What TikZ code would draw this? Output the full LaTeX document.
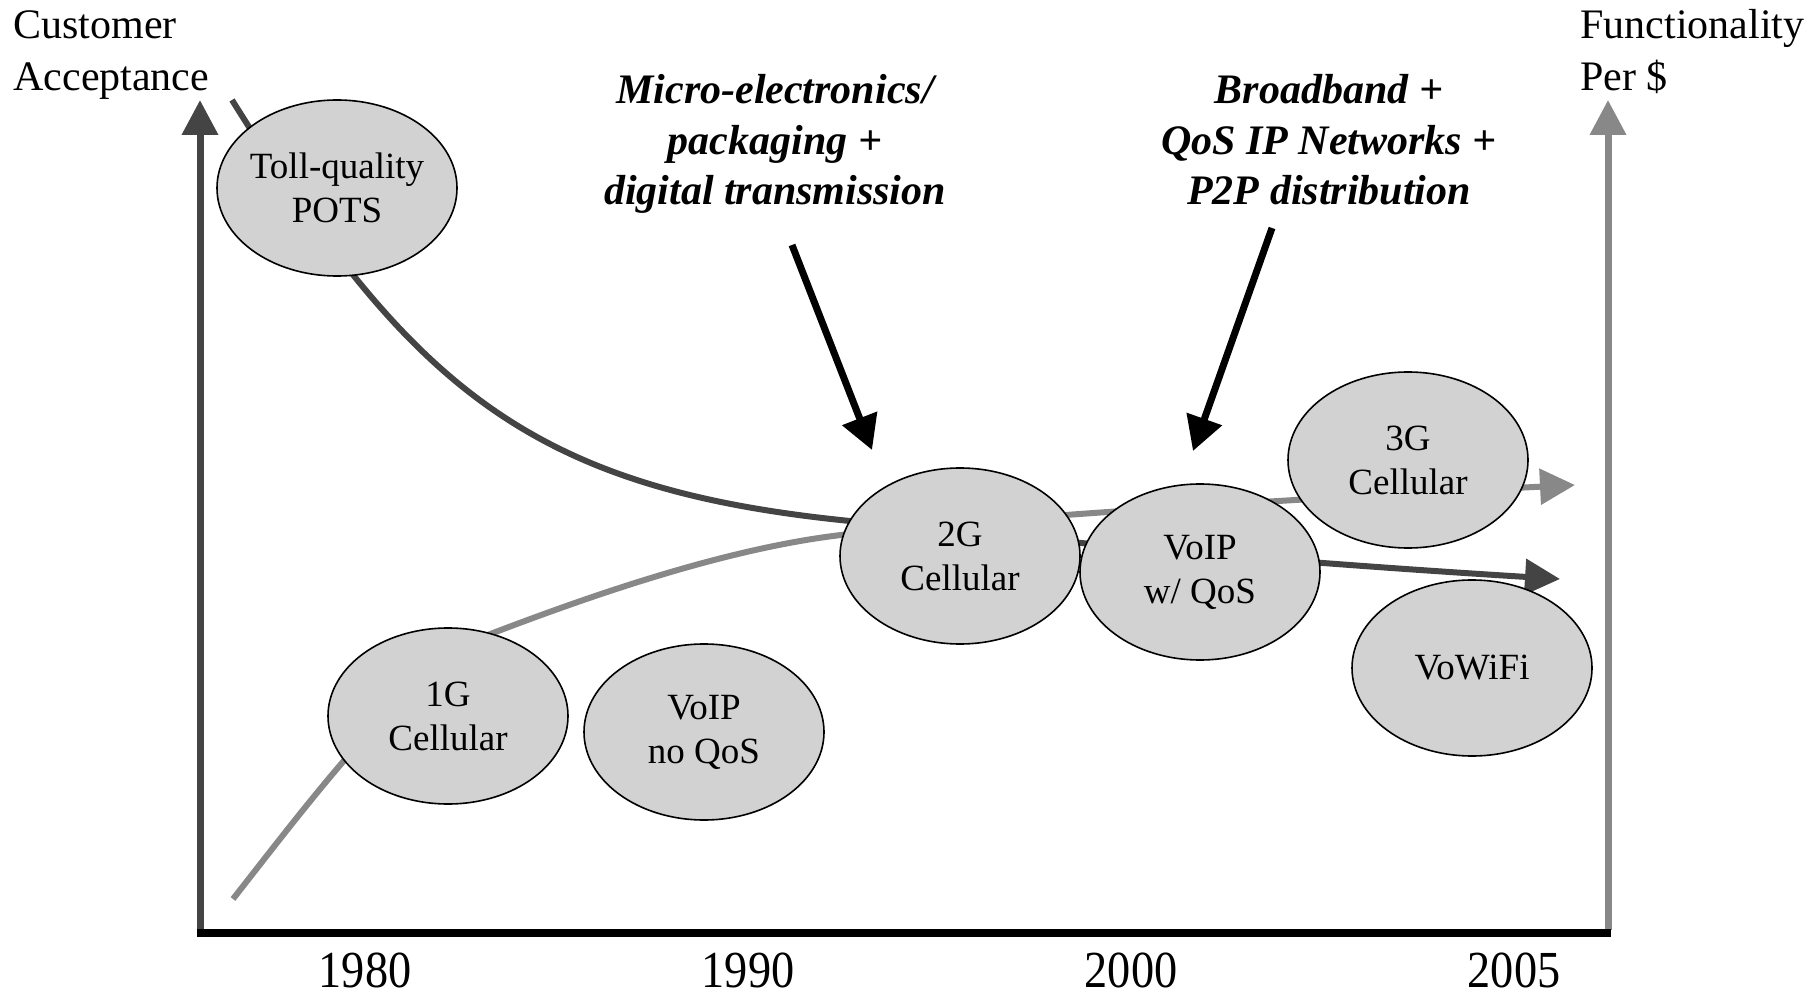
\documentclass[tikz,border=0pt]{standalone}
\usepackage{fontspec}
\setmainfont{Liberation Serif}
\usetikzlibrary{shapes.geometric,arrows.meta}
\definecolor{bubblefill}{RGB}{210,210,210}
\definecolor{darkline}{RGB}{68,68,68}
\definecolor{lightline}{RGB}{136,136,136}
\begin{document}
\begin{tikzpicture}[x=0.5pt,y=-0.5pt,
  bubble/.style={ellipse, draw=black, line width=0.8pt, fill=bubblefill, minimum width=120pt, minimum height=88pt, inner xsep=-3pt, inner ysep=0pt, align=center, font=\fontsize{18.5pt}{22pt}\selectfont},
  axislabel/.style={inner sep=0pt, anchor=base west, align=left, font=\fontsize{21pt}{26pt}\selectfont},
  driver/.style={inner sep=0pt, anchor=base, align=center, font=\fontsize{21pt}{25.3pt}\selectfont\bfseries\itshape},
  year/.style={inner sep=0pt, anchor=base, xscale=0.89, font=\fontsize{26pt}{26pt}\selectfont},
  tipped/.style={-{Triangle[length=17.5pt,width=17.5pt]}},
  darkcurve/.style={darkline, line width=3pt, tipped},
  lightcurve/.style={lightline, line width=3pt, tipped},
  pusharrow/.style={black, line width=3.5pt, -{Triangle[length=17pt,width=18pt]}},
]
\useasboundingbox (0,0) rectangle (1820,994);
% axes
\coordinate (ybot) at (200,933);
\coordinate (ytop) at (200,100);
\coordinate (xbot) at (197,933);
\coordinate (xend) at (1611,933);
\coordinate (fbot) at (1608,930);
\coordinate (ftop) at (1608,100);
\draw[darkline, line width=3.5pt, tipped] (ybot) -- (ytop);
\draw[lightline, line width=3.5pt, tipped] (fbot) -- (ftop);
\draw[black, line width=4pt] (xbot) -- (xend);
% curves (drawn behind the bubbles)
\coordinate (cs) at (232,100);
\coordinate (cm) at (850,521);
\coordinate (ce) at (1560,579);
\draw[darkcurve] (cs) .. controls (412,388) and (530,489) .. (cm)
  .. controls (1000,536) and (1250,560) .. (ce);
\coordinate (fs) at (233,899);
\coordinate (f1) at (493,633);
\coordinate (f2) at (841,535);
\coordinate (fe) at (1575,485);
\draw[lightcurve] (fs) .. controls (313,797) and (413,663) .. (f1)
  .. controls (603,591) and (731,548) .. (f2)
  .. controls (1000,516) and (1350,496) .. (fe);
% bubbles
\node[bubble] (pots) at (337,188) {Toll-quality\\POTS};
\node[bubble] (g1) at (448,716) {1G\\Cellular};
\node[bubble] (voipno) at (704,732) {VoIP\\no QoS};
\node[bubble] (g2) at (960,556) {2G\\Cellular};
\node[bubble] (voipqos) at (1200,572) {VoIP\\w/ QoS};
\node[bubble] (g3) at (1408,460) {3G\\Cellular};
\node[bubble] (vowifi) at (1472,668) {VoWiFi};
% labels (anchored at the baseline of their last line)
\node[axislabel] (ca) at (13,91) {Customer\\Acceptance};
\node[axislabel] (fp) at (1580,91) {Functionality\\Per \$};
\node[driver] (d1) at (775,205) {Micro-electronics/\\packaging +\\digital transmission};
\node[driver] (d2) at (1329,205) {Broadband +\\QoS IP Networks +\\P2P distribution};
% driver arrows
\coordinate (d1s) at (792,245);
\coordinate (d1e) at (872,450);
\coordinate (d2s) at (1272,228);
\coordinate (d2e) at (1193,451);
\draw[pusharrow] (d1s) -- (d1e);
\draw[pusharrow] (d2s) -- (d2e);
% years
\node[year] (y80) at (365,987) {1980};
\node[year] (y90) at (748,987) {1990};
\node[year] (y00) at (1131,987) {2000};
\node[year] (y05) at (1514,987) {2005};
\end{tikzpicture}
\end{document}
